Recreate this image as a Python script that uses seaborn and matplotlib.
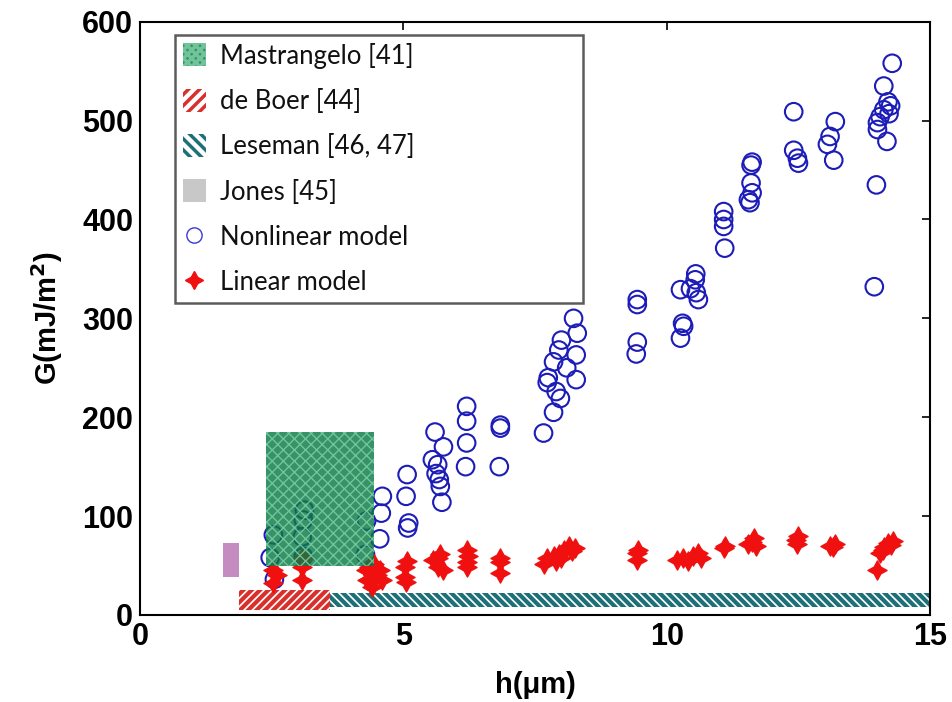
import numpy as np
import pandas as pd
import matplotlib
matplotlib.use("Agg")
import matplotlib.pyplot as plt
from matplotlib.patches import Rectangle, Patch
from matplotlib.lines import Line2D
import seaborn as sns

# ---------------- data ----------------
nl_x = [2.47, 2.53, 2.55, 3.10, 3.12, 3.08, 3.10,
        4.28, 4.30, 4.55, 4.58, 4.60,
        5.07, 5.05, 5.10, 5.08,
        5.60, 5.76, 5.55, 5.65, 5.62, 5.68, 5.73, 5.70,
        6.20, 6.20, 6.20, 6.18,
        6.84, 6.84, 6.82,
        7.66, 7.73, 7.85, 8.00, 8.23, 8.30, 8.28, 8.28, 7.95, 7.90, 7.98, 7.85, 7.75, 8.10,
        9.44, 9.44, 9.44, 9.42,
        10.26, 10.54, 10.56, 10.60, 10.45, 10.30, 10.26, 10.32, 10.55,
        11.08, 11.08, 11.08, 11.10,
        11.62, 11.60, 11.60, 11.62, 11.55, 11.58,
        12.41, 12.41, 12.48, 12.50,
        13.20, 13.10, 13.05, 13.17,
        14.28, 14.12, 14.20, 14.12, 14.05, 14.00, 14.22, 14.18, 14.00, 14.25, 13.98, 13.94]
nl_y = [58, 81, 36, 96, 106, 79, 59,
        61, 95, 77, 103, 120,
        142, 120, 93, 88,
        185, 170, 157, 152, 143, 137, 114, 130,
        211, 196, 174, 150,
        189, 192, 150,
        184, 235, 256, 278, 300, 285, 263, 238, 268, 226, 219, 205, 240, 250,
        319, 314, 276, 264,
        329, 339, 326, 319, 330, 295, 280, 292, 345,
        408, 400, 393, 371,
        458, 455, 437, 427, 420, 417,
        509, 470, 462, 457,
        499, 484, 476, 460,
        558, 535, 519, 511, 504, 498, 507, 479, 491, 515, 435, 332]

li_x = [2.53, 2.53, 2.60,
        3.07, 3.07, 3.10, 3.10,
        4.28, 4.30, 4.35, 4.40, 4.45, 4.55, 4.60, 4.50,
        5.03, 5.03, 5.07, 5.05,
        5.57, 5.66, 5.66, 5.70, 5.75,
        6.20, 6.20, 6.23, 6.20,
        6.84, 6.84, 6.84,
        7.66, 7.73, 7.85, 7.95, 8.05, 8.15, 8.20, 8.25, 7.90, 8.00,
        9.44, 9.44, 9.45,
        10.20, 10.30, 10.40, 10.50, 10.60, 10.65,
        11.08, 11.10,
        11.55, 11.62, 11.65, 11.70,
        12.45, 12.47, 12.50,
        13.10, 13.15, 13.20,
        14.00, 14.05, 14.12, 14.20, 14.25, 14.30, 14.10]
li_y = [45, 32, 40,
        49, 35, 60, 57,
        45, 35, 49, 28, 52, 45, 35, 40,
        49, 38, 55, 33,
        56, 58, 49, 62, 45,
        66, 54, 60, 48,
        54, 42, 58,
        52, 58, 60, 62, 66, 70, 65, 68, 55, 58,
        63, 56, 66,
        56, 58, 55, 60, 63, 58,
        68, 70,
        72, 74, 78, 70,
        76, 72, 80,
        70, 69, 72,
        45, 63, 69, 73, 71, 75, 66]

# reference ranges
ref_labels = ["Mastrangelo [41]", "de Boer [44]", "Leseman [46, 47]", "Jones [45]"]
ref_x0 = [2.4, 1.88, 3.6, 1.58]
ref_x1 = [4.45, 3.6, 15.0, 1.88]
ref_y0 = [50, 5, 8, 38]
ref_y1 = [185, 25, 22, 73]

series_labels = ["Nonlinear model", "Linear model"]

# ---------------- plot ----------------
sns.set_theme(style="white")
plt.rcParams["font.family"] = ["Liberation Sans", "DejaVu Sans"]
plt.rcParams["text.color"] = "black"
plt.rcParams["axes.labelcolor"] = "black"
plt.rcParams["xtick.color"] = "black"
plt.rcParams["ytick.color"] = "black"
plt.rcParams["hatch.linewidth"] = 3.0

fig = plt.figure(figsize=(9.53, 7.02), dpi=100)
ax = fig.add_axes([0.147, 0.124, 0.829, 0.845])

df_nl = pd.DataFrame({"h": nl_x, "G": nl_y})
df_li = pd.DataFrame({"h": li_x, "G": li_y})

GREEN = "#0a7a45"
CHECK = "#7fd0a6"
RED = "#d8302c"
TEAL = "#1d6f78"

ax.add_patch(Rectangle((ref_x0[2], ref_y0[2]), ref_x1[2] - ref_x0[2], ref_y1[2] - ref_y0[2],
                       facecolor="none", edgecolor=TEAL, hatch="\\\\\\\\", linewidth=0, zorder=1))
ax.add_patch(Rectangle((ref_x0[1], ref_y0[1]), ref_x1[1] - ref_x0[1], ref_y1[1] - ref_y0[1],
                       facecolor="none", edgecolor=RED, hatch="////", linewidth=0, zorder=1))
ax.add_patch(Rectangle((ref_x0[3], ref_y0[3]), ref_x1[3] - ref_x0[3], ref_y1[3] - ref_y0[3],
                       facecolor="#c48cc0", edgecolor="none", zorder=1))

sns.scatterplot(data=df_nl, x="h", y="G", ax=ax, marker="o", s=160,
                facecolors="none", edgecolor="#1c1cb8", linewidth=1.5, zorder=3, legend=False)
sns.scatterplot(data=df_li, x="h", y="G", ax=ax, marker=(4, 1, 0), s=190,
                color="#f01010", edgecolor="#f01010", linewidth=1.0, zorder=3, legend=False)

plt.rcParams["hatch.linewidth"] = 1.0
ax.add_patch(Rectangle((ref_x0[0], ref_y0[0]), ref_x1[0] - ref_x0[0], ref_y1[0] - ref_y0[0],
                       facecolor=GREEN, edgecolor=CHECK, hatch="xxx", linewidth=0,
                       alpha=0.82, zorder=4))

ax.set_xlim(0, 15)
ax.set_ylim(0, 600)
ax.set_xticks([0, 5, 10, 15])
ax.set_yticks([0, 100, 200, 300, 400, 500, 600])
ax.tick_params(direction="in", length=6, width=1.2, top=True, right=True,
               labelsize=22, pad=5, colors="black")
for lab in ax.get_xticklabels() + ax.get_yticklabels():
    lab.set_fontweight("bold")
for sp in ax.spines.values():
    sp.set_color("black")
    sp.set_linewidth(1.5)
ax.set_xlabel("h(\u03bcm)", fontsize=21, fontweight="bold", labelpad=14, color="black")
ax.set_ylabel("G(mJ/m$^\\mathbf{2}$)", fontsize=21, fontweight="bold", labelpad=12, color="black")

plt.rcParams["hatch.linewidth"] = 2.5
handles = [
    Patch(facecolor=GREEN, edgecolor=CHECK, hatch="xxxx", linewidth=0, alpha=0.82),
    Patch(facecolor="white", edgecolor=RED, hatch="///", linewidth=0),
    Patch(facecolor="white", edgecolor=TEAL, hatch="\\\\\\", linewidth=0),
    Patch(facecolor="#c8c8c8", edgecolor="none"),
    Line2D([], [], marker="o", linestyle="none", markerfacecolor="none",
           markeredgecolor="#3a3ad0", markersize=11, markeredgewidth=1.0),
    Line2D([], [], marker=(4, 1, 0), linestyle="none", color="#f01010", markersize=13),
]
leg = ax.legend(handles, ref_labels + series_labels, loc="upper left",
                bbox_to_anchor=(0.044, 0.0, 0.516, 0.978), mode="expand",
                frameon=True, fancybox=False,
                prop={"family": ["Lato", "DejaVu Sans"], "size": 18.5},
                handlelength=0.9, handleheight=1.0, handletextpad=0.55,
                labelspacing=0.78, borderpad=0.3, borderaxespad=0)
for t in leg.get_texts():
    t.set_color("#111111")
leg.get_frame().set_edgecolor("#333333")
leg.get_frame().set_linewidth(1.8)
leg.set_zorder(6)

fig.savefig("out.png", dpi=100)
